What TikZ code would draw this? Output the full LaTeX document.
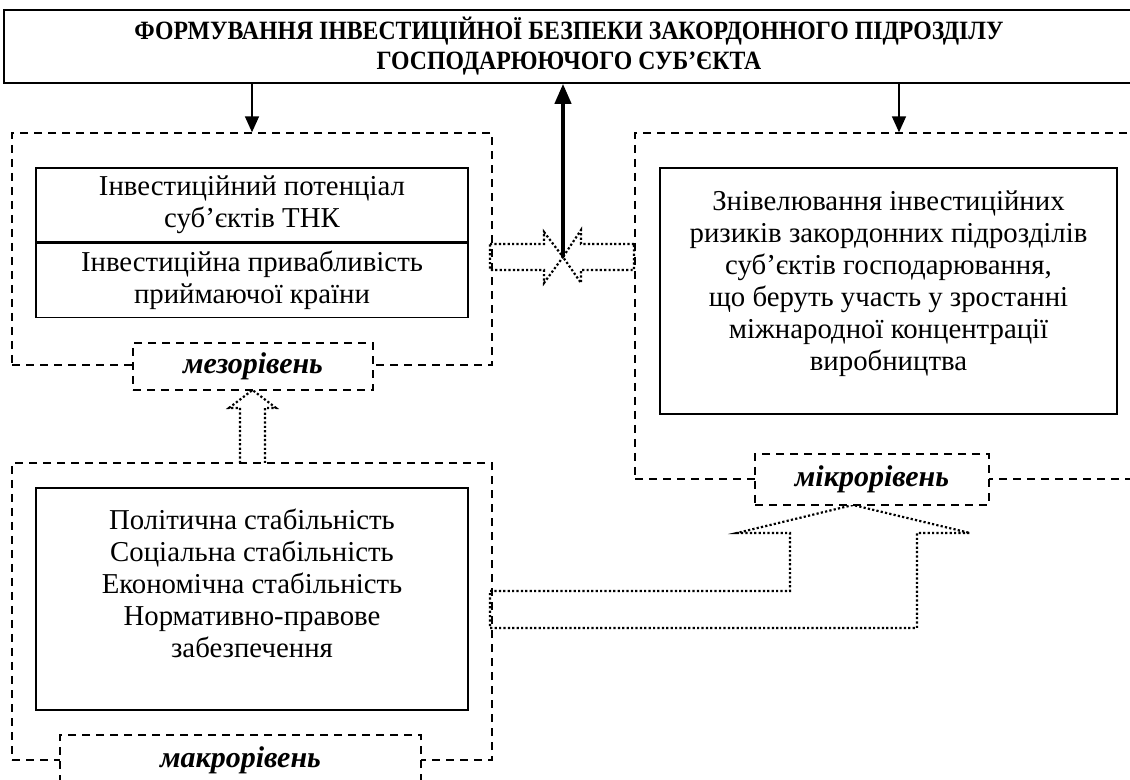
\documentclass[tikz,border=0pt]{standalone}
\usepackage{fontspec}
\setmainfont{Liberation Serif}
\newfontfamily\narrowfont[FakeStretch=0.9]{Liberation Serif}
\usetikzlibrary{arrows.meta,positioning}

\begin{document}
\begin{tikzpicture}[x=0.5pt, y=-0.5pt,
    box/.style={draw, line width=0.8pt, inner sep=0pt, align=center,
      font=\fontsize{14.4}{16}\selectfont},
    zone/.style={draw, dash pattern=on 4pt off 3pt, line width=0.7pt, inner sep=0pt},
    level/.style={zone, fill=white, font=\bfseries\itshape\fontsize{15}{16}\selectfont},
    link/.style={-{Triangle[width=7pt,length=8pt]}, line width=0.8pt},
    mainlink/.style={-{Triangle[width=8pt,length=10pt]}, line width=2pt},
    hollow/.style={dash pattern=on 1.1pt off 1.1pt, line width=1.1pt}]
  \useasboundingbox (0,0) rectangle (1130,780);

  \node[box, minimum width=565pt, minimum height=36.5pt,
    font=\narrowfont\bfseries\fontsize{13.2}{15}\selectfont] (title) at (569,46.5)
    {ФОРМУВАННЯ ІНВЕСТИЦІЙНОЇ БЕЗПЕКИ ЗАКОРДОННОГО ПІДРОЗДІЛУ\\ГОСПОДАРЮЮЧОГО СУБ’ЄКТА};

  \node[zone, minimum width=240pt, minimum height=116pt] (meso) at (252,249) {};
  \node[zone, minimum width=264pt, minimum height=173pt] (micro) at (899,306) {};
  \node[zone, minimum width=240pt, minimum height=148.5pt] (macro) at (252,611.5) {};

  \node[box, minimum width=216pt, minimum height=37pt] (potential) at (252,205)
    {Інвестиційний потенціал\\суб’єктів ТНК};
  \node[box, minimum width=216pt, minimum height=37pt, below=0pt of potential] (appeal)
    {Інвестиційна привабливість\\приймаючої країни};
  \node[box, minimum width=228.5pt, minimum height=123pt] (risks) at (888.5,291)
    {Знівелювання інвестиційних\\ризиків закордонних підрозділів\\суб’єктів господарювання,\\що беруть участь у зростанні\\міжнародної концентрації\\виробництва\\[-6pt]\mbox{}};
  \node[box, minimum width=216pt, minimum height=111pt] (stability) at (252,599)
    {Політична стабільність\\Соціальна стабільність\\Економічна стабільність\\Нормативно-правове\\забезпечення\\\mbox{}};

  \draw[link] (title.south -| meso.north) -- (meso.north);
  \draw[link] (title.south -| micro.north) -- (micro.north);
  \coordinate (cross) at (563,257);
  \draw[mainlink] (cross) -- (cross |- title.south);

  \draw[hollow] (490,244) -- (544,244) -- (544,232) -- (cross) -- (544,283) -- (544,270) -- (490,270) -- cycle;
  \draw[hollow] (634,244) -- (581,244) -- (581,230) -- (cross) -- (581,283) -- (581,270) -- (634,270) -- cycle;
  \draw[hollow] (240,463) -- (240,408) -- (229,408) -- (252.5,390) -- (276,408) -- (265,408) -- (265,463);
  \draw[hollow] (490,591) -- (790,591) -- (790,533) -- (737,533) -- (853,505) -- (970,533)
    -- (917,533) -- (917,628) -- (490,628) -- cycle;

  \node[level, minimum width=120pt, minimum height=23.5pt] (mesolab) at (253,366.5) {мезорівень};
  \node[level, minimum width=117pt, minimum height=25.5pt] (microlab) at (872,479.5) {мікрорівень};
  \node[level, minimum width=180.5pt, minimum height=25pt] (macrolab) at (240.5,760) {макрорівень};
\end{tikzpicture}
\end{document}
